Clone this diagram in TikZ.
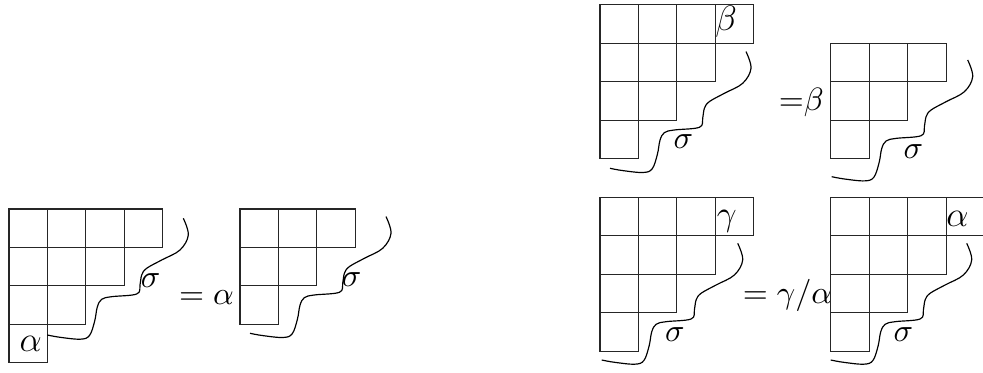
\documentclass[tikz,border=0pt]{standalone}
\usepackage{tikz}
\newcommand\ydiag[1]{%
  \foreach \r/\n in {#1} {%
    \foreach \c in {1,...,\n} {%
      \draw[cellline] ({(\c-1)*38.45},{\r*38.45}) rectangle ++(38.45,38.45);
    }%
  }%
}
\tikzset{
  cellline/.style={draw=black!85, line width=0.35pt},
  waveline/.style={draw=black, line width=0.4pt},
  wave/.pic={\draw[waveline] plot[smooth, tension=0.6] coordinates {(0,0) (12.7,2.3) (33,4.2) (42.2,0.5) (47.4,-14) (50,-28) (54.4,-35.7) (64.4,-38.3) (89.4,-41) (92.7,-50) (94.4,-60) (99.4,-66.7) (114.4,-75) (132.7,-85) (141,-100) (136,-116.7)};},
  lbl/.style={inner sep=0pt, font=\fontsize{10.5}{12}\selectfont},
  biglbl/.style={inner sep=0pt, font=\fontsize{13}{15}\selectfont},
}
\begin{document}
\begin{tikzpicture}[x=0.34pt,y=-0.34pt]
\useasboundingbox (0,0) rectangle (983,373);
% diagram 1
\begin{scope}[shift={(9,209)}] \ydiag{0/4,1/3,2/2,3/1} \end{scope}
\node[biglbl] (a1) at (30.8,344) {$\alpha$};
\pic (w1) at (47.3,335) {wave};
\node[lbl] (s1) at (150.7,280.7) {$\sigma$};
\node[lbl, anchor=base] (e1) at (206.4,305) {$=\alpha$};
% diagram 2
\begin{scope}[shift={(240,209)}] \ydiag{0/3,1/2,2/1} \end{scope}
\pic (w2) at (250,333.3) {wave};
\node[lbl] (s2) at (351.7,280) {$\sigma$};
% diagram 3
\begin{scope}[shift={(600,5)}] \ydiag{0/4,1/3,2/2,3/1} \end{scope}
\node[biglbl] (b3) at (726,22) {$\beta$};
\pic (w3) at (610,168.3) {wave};
\node[lbl] (s3) at (683.3,141.7) {$\sigma$};
\node[lbl, anchor=base] (e3) at (801.4,111) {${=}\beta$};
% diagram 4
\begin{scope}[shift={(830.7,43.3)}] \ydiag{0/3,1/2,2/1} \end{scope}
\pic (w4) at (831.7,176.7) {wave};
\node[lbl] (s4) at (913.3,151.7) {$\sigma$};
% diagram 5
\begin{scope}[shift={(600,197.3)}] \ydiag{0/4,1/3,2/2,3/1} \end{scope}
\node[biglbl] (g5) at (726.7,221.7) {$\gamma$};
\pic (w5) at (601.7,360) {wave};
\node[lbl] (s5) at (675,335) {$\sigma$};
\node[lbl, anchor=base] (e5) at (787.5,304) {$=\gamma/\alpha$};
% diagram 6
\begin{scope}[shift={(830.7,197.3)}] \ydiag{0/4,1/3,2/2,3/1} \end{scope}
\node[biglbl] (a6) at (957.5,218.8) {$\alpha$};
\pic (w6) at (830.7,360) {wave};
\node[lbl] (s6) at (903.3,335) {$\sigma$};
\end{tikzpicture}
\end{document}
